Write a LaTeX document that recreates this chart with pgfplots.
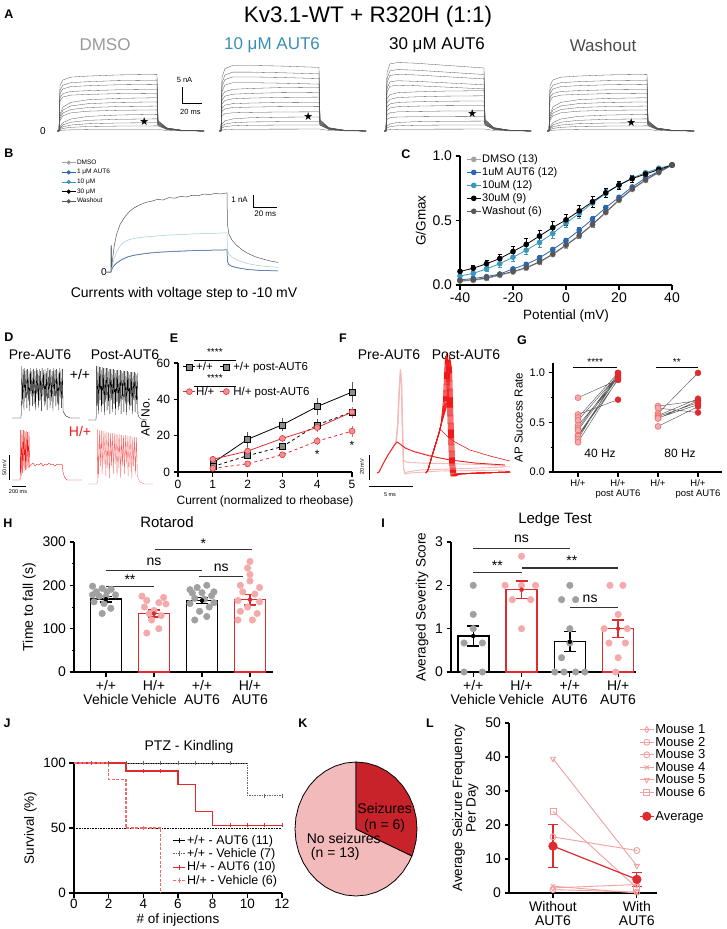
\documentclass[border=0pt]{standalone}
\usepackage{pgfplots}
\pgfplotsset{compat=1.18}
\usepackage{pgfplotstable}
\usetikzlibrary{plotmarks}
\usepackage{fontspec}
\setmainfont{Liberation Sans}
\newfontfamily\dejavu{DejaVu Sans}
\newcommand\fs[1]{\fontsize{#1}{#1}\selectfont}

\definecolor{cdmso}{HTML}{A3A3A3}
\definecolor{caut1}{HTML}{2D66B0}
\definecolor{caut10}{HTML}{3A97BE}
\definecolor{cwash}{HTML}{575757}
\definecolor{ctxtblue}{HTML}{3A8DB6}
\definecolor{ctxtgray}{HTML}{9A9A9A}
\definecolor{ctxtwash}{HTML}{4A4A4A}
\definecolor{cbmid}{HTML}{9FCBE0}
\definecolor{cred}{HTML}{DF2A2F}
\definecolor{cbright}{HTML}{F01818}
\definecolor{clightred}{HTML}{F46A6A}
\definecolor{cpinkdot}{HTML}{F4AAAA}
\definecolor{cpinkfill}{HTML}{F29090}
\definecolor{cpinkline}{HTML}{F2A0A0}
\definecolor{cpaler}{HTML}{F7B8B8}
\definecolor{cgraydot}{HTML}{A0A0A0}
\definecolor{csq}{HTML}{8C8C8C}
\definecolor{cpiedark}{HTML}{C8232A}
\definecolor{cpielight}{HTML}{F2BABA}

\pgfplotsset{
  gp/.style={scale only axis, axis x line*=bottom, axis y line*=left,
    tick align=outside, axis line style={line width=1.1pt},
    major tick style={line width=1.1pt, black}, minor tick style={line width=1pt, black},
    major tick length=4.5pt, minor tick length=2.5pt,
    tick label style={font=\fs{14}}, label style={font=\fs{14}},
    clip=false, /pgf/number format/assume math mode=true},
  hid/.style={scale only axis, hide axis, clip=false},
  trace/.style={black!68, line width=0.3pt},
  ebar/.style={/pgfplots/error bars/y dir=both, /pgfplots/error bars/y explicit},
}

% panel A: step currents (t in ms, I in nA), one column per voltage step
\pgfplotstableread{
t l1 l2 l3 l4 l5 l6 l7 l8 l9 l10 l11 l12 l13 l14
-2 0 0 0 0 0 0 0 0 0 0 0 0 0 0
0 0 0 0 0 0 0 0 0 0 0 0 0 0 0
1 0.12 0.40 0.65 0.95 1.30 3.3 3.9 4.55 5.2 9.44 10.4 11.68 12.72 14.16
4 0.25 0.8 1.3 1.9 2.6 4.75 5.62 6.55 7.49 10.62 11.7 13.14 14.31 15.93
12 0.36 1.15 1.87 2.74 3.74 5.68 6.71 7.83 8.94 11.21 12.35 13.87 15.1 16.82
30 0.44 1.41 2.29 3.34 4.58 6.2 7.33 8.55 9.78 11.45 12.61 14.16 15.42 17.17
60 0.48 1.54 2.5 3.65 4.99 6.47 7.64 8.92 10.19 11.68 12.87 14.45 15.74 17.52
100 0.5 1.6 2.6 3.8 5.2 6.6 7.8 9.1 10.4 11.8 13.0 14.6 15.9 17.7
101 0.5 1.6 1.76 1.88 2.02 2.16 2.28 2.41 2.54 2.68 2.8 2.96 3.09 3.27
110 0.15 0.48 0.53 0.56 0.61 0.65 0.68 0.72 0.76 0.80 0.84 0.89 0.93 0.98
125 0.04 0.13 0.14 0.15 0.16 0.17 0.18 0.19 0.2 0.21 0.22 0.24 0.25 0.26
148 0 0 0 0 0 0 0 0 0 0 0 0 0 0
}\tabDMSO

\pgfplotstableread{
t l1 l2 l3 l4 l5 l6 l7 l8 l9 l10 l11 l12 l13 l14
-2 0 0 0 0 0 0 0 0 0 0 0 0 0 0
0 0 0 0 0 0 0 0 0 0 0 0 0 0 0
1 0.3 0.95 1.5 2.2 4.8 6.16 7.2 8.48 9.68 10.96 12.38 13.86 15.09 16.81
4 0.43 1.37 2.16 3.17 5.4 6.93 8.1 9.54 10.89 12.33 14.35 16.06 17.48 19.48
12 0.52 1.63 2.58 3.78 5.7 7.32 8.55 10.07 11.5 13.02 15.1 16.9 18.4 20.5
30 0.56 1.79 2.82 4.14 5.82 7.47 8.73 10.28 11.74 13.29 15.1 16.9 18.4 20.5
60 0.59 1.86 2.94 4.31 5.94 7.62 8.91 10.49 11.98 13.56 14.95 16.73 18.22 20.3
100 0.6 1.9 3.0 4.4 6.0 7.7 9.0 10.6 12.1 13.7 14.65 16.39 17.85 19.89
101 0.6 1.9 1.8 1.94 2.1 2.27 2.4 2.56 2.71 2.87 3.0 3.18 3.33 3.54
110 0.18 0.57 0.54 0.58 0.63 0.68 0.72 0.77 0.81 0.86 0.9 0.95 1.0 1.06
125 0.05 0.15 0.14 0.16 0.17 0.18 0.19 0.2 0.22 0.23 0.24 0.25 0.27 0.28
148 0 0 0 0 0 0 0 0 0 0 0 0 0 0
}\tabTen

\pgfplotstableread{
t l1 l2 l3 l4 l5 l6 l7 l8 l9 l10 l11 l12 l13 l14
-2 0 0 0 0 0 0 0 0 0 0 0 0 0 0
0 0 0 0 0 0 0 0 0 0 0 0 0 0 0
1 0.3 0.95 1.55 3.68 5.04 6.4 7.52 8.8 10.08 12.16 13.35 15.05 16.32 18.19
4 0.43 1.37 2.23 4.14 5.67 7.2 8.46 9.9 11.34 14.01 15.39 17.35 18.82 20.97
12 0.52 1.63 2.67 4.37 5.99 7.6 8.93 10.45 11.97 14.3 15.7 17.7 19.2 21.4
30 0.56 1.79 2.91 4.46 6.11 7.76 9.12 10.67 12.22 14.16 15.54 17.52 19.01 21.19
60 0.59 1.86 3.04 4.55 6.24 7.92 9.31 10.89 12.47 13.73 15.07 16.99 18.43 20.54
100 0.6 1.9 3.1 4.6 6.3 8.0 9.4 11.0 12.6 13.16 14.44 16.28 17.66 19.69
101 0.6 1.9 1.81 1.96 2.13 2.3 2.44 2.6 2.76 2.93 3.07 3.27 3.42 3.64
110 0.18 0.57 0.54 0.59 0.64 0.69 0.73 0.78 0.83 0.88 0.92 0.98 1.03 1.09
125 0.05 0.15 0.14 0.16 0.17 0.18 0.2 0.21 0.22 0.23 0.25 0.26 0.27 0.29
148 0 0 0 0 0 0 0 0 0 0 0 0 0 0
}\tabThirty

% panel C: G/Gmax and SEM
\pgfplotstableread{
x d a1 a10 a30 w ed ea1 ea10 ea30 ew
-40 0.030 0.040 0.070 0.105 0.035 0.01 0.01 0.015 0.02 0.01
-35 0.035 0.050 0.090 0.130 0.040 0.01 0.01 0.02 0.025 0.01
-30 0.050 0.065 0.125 0.165 0.055 0.01 0.012 0.02 0.03 0.012
-25 0.075 0.085 0.165 0.205 0.080 0.012 0.015 0.025 0.035 0.012
-20 0.100 0.125 0.215 0.260 0.105 0.012 0.015 0.03 0.04 0.015
-15 0.130 0.160 0.270 0.315 0.135 0.015 0.018 0.03 0.045 0.015
-10 0.175 0.210 0.330 0.380 0.180 0.015 0.02 0.035 0.045 0.018
-5 0.235 0.275 0.400 0.445 0.240 0.015 0.02 0.035 0.045 0.018
0 0.305 0.345 0.480 0.505 0.310 0.018 0.02 0.035 0.045 0.02
5 0.380 0.425 0.555 0.575 0.385 0.018 0.02 0.035 0.045 0.02
10 0.465 0.510 0.635 0.645 0.470 0.018 0.02 0.03 0.04 0.02
15 0.560 0.600 0.710 0.715 0.565 0.015 0.02 0.03 0.035 0.018
20 0.655 0.680 0.775 0.775 0.660 0.015 0.015 0.025 0.03 0.015
25 0.740 0.760 0.830 0.825 0.745 0.012 0.012 0.02 0.025 0.012
30 0.810 0.830 0.870 0.860 0.815 0.01 0.01 0.015 0.02 0.01
35 0.870 0.880 0.905 0.895 0.875 0.008 0.008 0.01 0.012 0.008
40 0.930 0.930 0.930 0.930 0.930 0.005 0.005 0.005 0.005 0.005
}\tabC

\begin{document}
\begin{tikzpicture}
\path[use as bounding box] (0pt,0pt) rectangle (726pt,-929pt);

% panel letters
\begin{scope}[every node/.style={font=\bfseries\fs{12.5}}]
\node at (9pt,-14pt) {A};
\node at (9pt,-153pt) {B};
\node at (406pt,-154pt) {C};
\node at (9pt,-337pt) {D};
\node at (174pt,-338pt) {E};
\node at (343pt,-338pt) {F};
\node at (522pt,-340pt) {G};
\node at (8pt,-523pt) {H};
\node at (383pt,-523pt) {I};
\node at (7pt,-723pt) {J};
\node at (303pt,-723pt) {K};
\node at (430pt,-723pt) {L};
\end{scope}

% ---------------- A ----------------
\node[font=\fs{22.5}] at (368pt,-17pt) {Kv3.1-WT + R320H (1:1)};
\node[font=\fs{17}, text=ctxtgray] at (105pt,-45pt) {DMSO};
\node[font=\fs{17}, text=ctxtblue] at (272pt,-45pt) {10 μM AUT6};
\node[font=\fs{17}] at (437pt,-45pt) {30 μM AUT6};
\node[font=\fs{17}, text=ctxtwash] at (603pt,-45pt) {Washout};
\node[font=\fs{10}] at (43pt,-131pt) {0};

\begin{axis}[hid, at={(57.04pt,-132.6pt)}, anchor=south west, width=149pt, height=72pt,
  xmin=-2, xmax=150, ymin=-0.5, ymax=22]
\pgfplotsinvokeforeach{1,...,14}{\addplot[trace] table[x=t,y=l#1]{\tabDMSO};}
\addplot[only marks, mark=text, text mark={\dejavu\fs{11}★}] coordinates {(87,2.8)};
\addplot[black, line width=0.8pt] coordinates {(125.5,13.75) (125.5,8.75) (145.5,8.75)};
\node[font=\fs{7.5}] at (axis cs:128,15.9) {5 nA};
\node[font=\fs{7.5}] at (axis cs:134,5.9) {20 ms};
\end{axis}

\begin{axis}[hid, at={(219.04pt,-132.6pt)}, anchor=south west, width=149pt, height=72pt,
  xmin=-2, xmax=150, ymin=-0.5, ymax=22]
\pgfplotsinvokeforeach{1,...,14}{\addplot[trace] table[x=t,y=l#1]{\tabTen};}
\addplot[only marks, mark=text, text mark={\dejavu\fs{11}★}] coordinates {(89,4.4)};
\end{axis}

\begin{axis}[hid, at={(384.04pt,-132.6pt)}, anchor=south west, width=149pt, height=72pt,
  xmin=-2, xmax=150, ymin=-0.5, ymax=22]
\pgfplotsinvokeforeach{1,...,14}{\addplot[trace] table[x=t,y=l#1]{\tabThirty};}
\addplot[only marks, mark=text, text mark={\dejavu\fs{11}★}] coordinates {(88,5.6)};
\end{axis}

\begin{axis}[hid, at={(547.04pt,-132.6pt)}, anchor=south west, width=149pt, height=72pt,
  xmin=-2, xmax=150, ymin=-0.5, ymax=22]
\pgfplotsinvokeforeach{1,...,14}{\addplot[trace] table[x=t,y=l#1]{\tabDMSO};}
\addplot[only marks, mark=text, text mark={\dejavu\fs{11}★}] coordinates {(84,2.5)};
\end{axis}

% ---------------- B ----------------
\node[font=\fs{10}] at (104pt,-272pt) {0};
\node[font=\fs{14}] at (184pt,-294pt) {Currents with voltage step to -10 mV};
\begin{axis}[hid, at={(105.2pt,-275.6pt)}, anchor=south west, width=174pt, height=87.6pt,
  xmin=-5, xmax=145, ymin=-0.3, ymax=7,
  legend style={at={(-0.27,1.36)}, anchor=north west, draw=none, fill=none,
    font=\fs{6.5}, row sep=1.6pt, nodes={inner sep=1pt}},
  legend cell align=left,
  legend image code/.code={\draw[mark repeat=2,mark phase=2,#1] plot coordinates {(0pt,0pt) (7pt,0pt) (14pt,0pt)};}]
\addplot[cdmso, line width=0.5pt, forget plot] coordinates {(-5,0)(0,0)(0.2,2.1)(0.6,0.2)(1.5,0.4)(3,0.6)(5,0.78)(10,1.1)(15,1.3)(20,1.42)(30,1.57)(40,1.66)(50,1.72)(60,1.76)(70,1.79)(80,1.82)(90,1.84)(100,1.86)(100.4,0.9)(101.5,0.65)(104,0.5)(110,0.35)(118,0.22)(130,0.14)(144,0.1)};
\addplot[caut1, line width=0.5pt, forget plot] coordinates {(-5,0)(0,0)(0.2,2.0)(0.6,0.18)(1.5,0.37)(3,0.57)(5,0.74)(10,1.06)(15,1.27)(20,1.39)(30,1.54)(40,1.63)(50,1.69)(60,1.73)(70,1.77)(80,1.8)(90,1.82)(100,1.84)(100.4,0.88)(101.5,0.62)(104,0.47)(110,0.33)(118,0.2)(130,0.12)(144,0.09)};
\addplot[cbmid, line width=0.5pt, forget plot] coordinates {(-5,0)(0,0)(0.2,2.2)(0.6,0.3)(1.5,0.7)(3,1.2)(5,1.7)(8,2.2)(12,2.55)(16,2.7)(20,2.8)(25,2.87)(30,2.93)(40,3.0)(50,3.08)(60,3.12)(70,3.17)(80,3.2)(90,3.23)(100,3.27)(100.4,1.9)(101.5,1.5)(104,1.25)(110,0.95)(118,0.7)(126,0.55)(135,0.45)(144,0.38)};
\addplot[cwash, line width=0.5pt, forget plot] coordinates {(-5,0)(0,0)(0.2,2.25)(0.6,0.4)(1.5,1.2)(3,2.3)(5,3.2)(8,4.0)(12,4.6)(16,5.05)(20,5.35)(25,5.6)(30,5.8)(35,5.9)(40,6.05)(45,6.0)(50,6.2)(55,6.15)(60,6.3)(65,6.25)(70,6.4)(75,6.35)(80,6.5)(85,6.45)(90,6.55)(95,6.5)(100,6.6)(100.4,4.0)(101.5,3.2)(104,2.7)(108,2.25)(113,1.85)(118,1.55)(125,1.25)(132,1.05)(138,0.9)(144,0.8)};
\addplot[black, line width=0.8pt, forget plot] coordinates {(123,6.42)(123,5.42)(143,5.42)};
\node[font=\fs{8}, anchor=east] at (axis cs:121,6.0) {1 nA};
\node[font=\fs{8}] at (axis cs:133,4.85) {20 ms};
\addlegendimage{cdmso, line width=0.6pt, mark=*, mark size=1.8pt}
\addlegendentry{DMSO}
\addlegendimage{caut1, line width=0.6pt, mark=*, mark size=1.8pt}
\addlegendentry{1 μM AUT6}
\addlegendimage{caut10, line width=0.6pt, mark=*, mark size=1.8pt}
\addlegendentry{10 μM}
\addlegendimage{black, line width=0.6pt, mark=*, mark size=1.8pt}
\addlegendentry{30 μM}
\addlegendimage{cwash, line width=0.6pt, mark=*, mark size=1.8pt}
\addlegendentry{Washout}
\end{axis}

% ---------------- C ----------------
\begin{axis}[gp, at={(460pt,-285pt)}, anchor=south west, width=212pt, height=129pt,
  xmin=-40, xmax=40, ymin=0, ymax=1, xtick={-40,-20,0,20,40}, ytick={0,0.5,1},
  yticklabel style={/pgf/number format/.cd, fixed, fixed zerofill, precision=1},
  xlabel={Potential (mV)}, ylabel={G/Gmax}, label style={font=\fs{13.5}},
  legend style={at={(0.015,1.035)}, anchor=north west, draw=none, fill=none,
    font=\fs{11}, row sep=1.5pt, nodes={inner sep=1pt}},
  legend cell align=left,
  legend image code/.code={\draw[mark repeat=2,mark phase=2,#1] plot coordinates {(0pt,0pt) (7pt,0pt) (14pt,0pt)};},
  every axis plot/.append style={line width=0.8pt, mark=*, mark size=2.4pt, ebar,
    /pgfplots/error bars/error bar style={line width=0.6pt},
    /pgfplots/error bars/error mark options={rotate=90, mark size=2pt, line width=0.6pt}}]
\addplot[cdmso] table[x=x, y=d, y error=ed]{\tabC};
\addlegendentry{DMSO (13)}
\addplot[caut1] table[x=x, y=a1, y error=ea1]{\tabC};
\addlegendentry{1uM AUT6 (12)}
\addplot[caut10] table[x=x, y=a10, y error=ea10]{\tabC};
\addlegendentry{10uM (12)}
\addplot[black] table[x=x, y=a30, y error=ea30]{\tabC};
\addlegendentry{30uM (9)}
\addplot[cwash] table[x=x, y=w, y error=ew]{\tabC};
\addlegendentry{Washout (6)}
\end{axis}

% ---------------- D ----------------
\node[font=\fs{14}] at (40pt,-355pt) {Pre-AUT6};
\node[font=\fs{14}] at (125pt,-355pt) {Post-AUT6};
\node[font=\fs{14}] at (80pt,-374pt) {+/+};
\node[font=\fs{14}, text=cbright] at (80pt,-431pt) {H/+};
\begin{axis}[hid, at={(0pt,-500pt)}, anchor=south west, width=170pt, height=160pt,
  xmin=0, xmax=170, ymin=-500, ymax=-340]
\addplot[black, line width=0.3pt] coordinates {(12,-418) (21,-418) (21.3,-410)
(21.8,-366) (22.5,-404) (23.25,-369) (23.95,-410) (24.7,-368) (25.4,-398) (26.15,-370) (26.85,-408) (27.6,-369) (28.3,-401) (29.05,-371) (29.75,-411) (30.5,-368) (31.2,-396) (31.95,-370) (32.65,-406) (33.4,-369) (34.1,-404) (34.85,-371) (35.55,-410) (36.3,-368) (37,-398) (37.75,-370) (38.45,-408) (39.2,-369) (39.9,-401) (40.65,-371) (41.35,-411) (42.1,-368) (42.8,-396) (43.55,-370) (44.25,-406) (45,-369) (45.7,-404) (46.45,-371) (47.15,-410) (47.9,-368) (48.6,-398) (49.35,-370) (50.05,-408) (50.8,-369) (51.5,-401) (52.25,-371) (52.95,-411) (53.7,-368) (54.4,-396) (55.15,-370) (55.85,-406) (56.6,-369) (57.3,-404) (58.05,-371) (58.75,-410) (59.5,-368) (60.2,-398) (60.95,-370) (61.65,-408) (62.4,-369) (63.1,-411) (64,-413) (66,-416) (70,-418) (80,-418)};
\addplot[black, line width=0.3pt] coordinates {(88,-420)(96,-420)(96.3,-413)
(96.6,-366)(97.3,-406)(98,-366)(98.7,-414)(99.4,-367)(100.1,-400)(100.8,-367)(101.5,-412)(102.2,-367)(102.9,-404)(103.6,-368)(104.3,-415)(105,-368)(105.7,-402)(106.4,-368)(107.1,-410)(107.8,-368)(108.5,-406)(109.2,-369)(109.9,-414)(110.6,-369)(111.3,-400)(112,-369)(112.7,-412)(113.4,-369)(114.1,-404)(114.8,-370)(115.5,-415)(116.2,-370)(116.9,-402)(117.6,-370)(118.3,-410)(119,-370)(119.7,-406)(120.4,-370)(121.1,-414)(121.8,-371)(122.5,-400)(123.2,-371)(123.9,-412)(124.6,-371)(125.3,-404)(126,-371)(126.7,-415)(127.4,-371)(128.1,-402)(128.8,-372)(129.5,-410)(130.2,-372)(130.9,-406)(131.6,-372)(132.3,-414)(133,-372)(133.7,-400)(134.4,-372)(135.1,-412)(135.8,-373)(136.5,-404)(137.2,-373)(137.9,-414)(139,-417)(141,-419)(147,-420)};
\addplot[cbright, line width=0.35pt] coordinates {(12,-480)(20,-480)(20.3,-476)(20.6,-430)(21.2,-476)(22,-430)(22.6,-473)(23.4,-430)(24,-471)(24.8,-431)(25.4,-470)(26.2,-431)(26.8,-469)(27.6,-432)(28.2,-468)(29,-432)(29.6,-467)(30.5,-465)(33,-463)(35,-466)(37,-464)(39,-465)(41,-463)(43,-466)(45,-464)(47,-465)(49,-463)(51,-465)(53,-464)(55,-466)(57,-464)(59,-465)(61,-464)(62.3,-465)(63,-472)(64.5,-477)(67,-480)(82,-480)};
\addplot[clightred, line width=0.35pt] coordinates {(88,-484)(97,-484)(97.3,-478)
(97.6,-429)(98.5,-478)(99.45,-430)(100.35,-466)(101.3,-430)(102.2,-474)(103.15,-431)(104.05,-464)(105,-431)(105.9,-476)(106.85,-432)(107.75,-468)(108.7,-432)(109.6,-478)(110.55,-433)(111.45,-466)(112.4,-433)(113.3,-474)(114.25,-433)(115.15,-464)(116.1,-434)(117,-476)(117.95,-434)(118.85,-468)(119.8,-434)(120.7,-478)(121.65,-435)(122.55,-466)(123.5,-435)(124.4,-474)(125.35,-435)(126.25,-464)(127.2,-436)(128.1,-476)(129.05,-436)(129.95,-468)(130.9,-436)(131.8,-478)(132.75,-437)(133.65,-466)(134.6,-437)(135.5,-474)(136.45,-437)(137.35,-476)(138.5,-479)(140,-482)(144,-484)(153,-484)};
\addplot[black, line width=0.6pt] coordinates {(9,-455)(9,-480)};
\addplot[black, line width=0.6pt] coordinates {(12,-486)(26,-486)};
\node[font=\fs{5.5}, rotate=90] at (axis cs:4.5,-468) {50 mV};
\node[font=\fs{5.5}] at (axis cs:18,-492) {200 ms};
\end{axis}

% ---------------- E ----------------
\begin{axis}[gp, at={(178pt,-472pt)}, anchor=south west, width=174pt, height=109pt,
  xmin=0, xmax=5, ymin=0, ymax=60, xtick={0,...,5}, ytick={0,20,40,60},
  tick label style={font=\fs{12}}, label style={font=\fs{12}},
  xlabel={Current (normalized to rheobase)}, ylabel={AP No.},
  legend columns=2,
  legend style={at={(0.01,1.035)}, anchor=north west, draw=none, fill=none,
    font=\fs{11.5}, row sep=14pt, nodes={inner sep=0.5pt},
    /tikz/every even column/.append style={column sep=5pt}},
  legend cell align=left,
  legend image code/.code={\draw[mark repeat=2,mark phase=2,#1] plot coordinates {(0pt,0pt) (6pt,0pt) (12pt,0pt)};},
  every axis plot/.append style={ebar,
    /pgfplots/error bars/error bar style={line width=0.7pt, solid},
    /pgfplots/error bars/error mark=none}]
\addplot[black, line width=0.8pt, mark=square*, mark size=3pt, mark options={fill=csq, draw=black, solid, line width=0.5pt}, /pgfplots/error bars/error bar style={black!65}]
  coordinates {(1,5)+-(0,2) (2,18)+-(0,4) (3,26)+-(0,3.5) (4,36)+-(0,4.5) (5,44)+-(0,5.5)};
\addlegendentry{+/+}
\addplot[black, line width=0.8pt, dashed, mark=square*, mark size=3pt, mark options={fill=csq, draw=black, solid, line width=0.5pt}, /pgfplots/error bars/error bar style={black!65}]
  coordinates {(1,3)+-(0,1) (2,9)+-(0,2) (3,14)+-(0,2) (4,26)+-(0,3) (5,33)+-(0,3)};
\addlegendentry{+/+ post-AUT6}
\addplot[cred, line width=0.8pt, mark=*, mark size=3pt, mark options={fill=cpinkfill, draw=cred, solid, line width=0.5pt}, /pgfplots/error bars/error bar style={cred!70}]
  coordinates {(1,7)+-(0,1.5) (2,11.5)+-(0,2) (3,18.5)+-(0,2) (4,24.5)+-(0,2.5) (5,33)+-(0,3)};
\addlegendentry{H/+}
\addplot[cred, line width=0.8pt, dashed, mark=*, mark size=3pt, mark options={fill=cpinkfill, draw=cred, solid, line width=0.5pt}, /pgfplots/error bars/error bar style={cred!70}]
  coordinates {(1,2)+-(0,1) (2,4.5)+-(0,1) (3,9.5)+-(0,1.5) (4,17)+-(0,2) (5,22.5)+-(0,3)};
\addlegendentry{H/+ post-AUT6}
\addplot[black, line width=0.8pt, forget plot] coordinates {(0.46,61.5)(1.67,61.5)};
\addplot[black, line width=0.8pt, forget plot] coordinates {(0.46,47.3)(1.67,47.3)};
\node[font=\fs{10}] at (axis cs:1.06,66) {****};
\node[font=\fs{10}] at (axis cs:1.06,51.8) {****};
\node[font=\fs{12}] at (axis cs:4,9.6) {*};
\node[font=\fs{12}] at (axis cs:5,14.4) {*};
\end{axis}

% ---------------- F ----------------
\node[font=\fs{14}] at (389pt,-355pt) {Pre-AUT6};
\node[font=\fs{14}] at (466pt,-355pt) {Post-AUT6};
\begin{axis}[hid, at={(340pt,-500pt)}, anchor=south west, width=190pt, height=160pt,
  xmin=340, xmax=530, ymin=-500, ymax=-340]
\addplot[cpaler, line width=0.7pt] coordinates {(397,-442)(410,-450)(440,-458)(480,-464)(510,-467)};
\addplot[cpaler, line width=0.9pt] coordinates {(377,-473)(379,-472)(383,-464)(388,-455)(393,-448)(396,-441)(397.5,-425)(399,-390)(400.3,-369)(401.3,-385)(402.3,-430)(403.3,-466)(404.5,-473)(407,-472)(420,-470)(450,-469)(480,-468)(505,-467)};
\addplot[cpaler, line width=0.9pt] coordinates {(377,-473)(379,-472)(383,-464)(388,-455)(393,-448)(396.5,-441)(398,-425)(399.5,-390)(400.8,-371)(401.8,-385)(402.8,-430)(403.8,-468)(405,-474)(410,-473)(440,-471)(505,-470)};
\addplot[cpaler, line width=0.9pt] coordinates {(377,-473)(379,-472)(383,-464)(388,-455)(393,-448)(396,-441)(397.7,-425)(399.2,-390)(400.5,-372)(401.5,-388)(402.5,-430)(403.5,-460)(406,-462)(420,-463)(460,-464)(505,-465)};
\addplot[cbright, line width=0.8pt] coordinates {(377,-473)(379,-472)(383,-464)(388,-455)(393,-447)(397,-442)(400,-444)(405,-448)(415,-452)(430,-456)(450,-460)(475,-463)(505,-465)};
\addplot[cbright, line width=0.6pt] coordinates {(426,-473)(428,-470)(432,-456)(436,-443)(440,-430)(442,-431)(447,-436)(455,-442)(470,-450)(490,-456)(510,-461)};
\addplot[cbright, line width=0.8pt] coordinates {(426,-473)(428,-470)(432,-456)(436,-443)(439,-433)(441,-425)(443.5,-400)(444.5,-375)(445.5,-356)(446.5,-368)(448,-420)(449.5,-462)(451,-476)(454.5,-474)(480,-473)(510,-472)};
\addplot[cbright, line width=0.8pt] coordinates {(426,-473)(428,-470)(432,-456)(436,-443)(439,-433)(441,-425)(444.5,-400)(445.5,-375)(446.5,-354)(447.5,-368)(449,-420)(450.5,-462)(452,-476)(455.5,-474)(480,-473)(510,-472)};
\addplot[cbright, line width=0.8pt] coordinates {(426,-473)(428,-470)(432,-456)(436,-443)(439,-433)(441,-425)(445.5,-400)(446.5,-375)(447.5,-358)(448.5,-368)(450,-420)(451.5,-462)(453,-476)(456.5,-474)(480,-473)(510,-472)};
\addplot[cbright, line width=0.8pt] coordinates {(426,-473)(428,-470)(432,-456)(436,-443)(439,-433)(441,-425)(446.5,-400)(447.5,-375)(448.5,-360)(449.5,-368)(451,-420)(452.5,-462)(454,-476)(457.5,-474)(480,-473)(510,-472)};
\addplot[cbright, line width=0.8pt] coordinates {(426,-473)(428,-470)(432,-456)(436,-443)(439,-433)(441,-425)(447.5,-400)(448.5,-375)(449.5,-355)(450.5,-368)(452,-420)(453.5,-462)(455,-476)(458.5,-474)(480,-473)(510,-472)};
\addplot[cbright, line width=0.8pt] coordinates {(426,-473)(428,-470)(432,-456)(436,-443)(439,-433)(441,-425)(448.5,-400)(449.5,-375)(450.5,-362)(451.5,-368)(453,-420)(454.5,-462)(456,-476)(459.5,-474)(480,-473)(510,-472)};
\addplot[black, line width=0.6pt] coordinates {(369,-455)(369,-480)};
\addplot[black, line width=0.6pt] coordinates {(369,-486)(413,-486)};
\node[font=\fs{5.5}, rotate=90] at (axis cs:362,-467) {20 mV};
\node[font=\fs{5.5}] at (axis cs:390,-495) {5 ms};
\end{axis}

% ---------------- G ----------------
\begin{axis}[gp, at={(553pt,-472pt)}, anchor=south west, width=169pt, height=109pt,
  xmin=-0.625, xmax=3.6, ymin=0, ymax=1.1, ytick={0,0.5,1}, minor ytick={0.25,0.75},
  xtick={0,1,2,3}, xticklabels={{H/+},{H/+\\post AUT6},{H/+},{H/+\\post AUT6}},
  xticklabel style={align=center, font=\fs{9.5}},
  yticklabel style={font=\fs{11}, /pgf/number format/.cd, fixed, fixed zerofill, precision=1},
  ylabel={AP Success Rate}, ylabel style={font=\fs{11.5}}, unbounded coords=jump]
\addplot[black!65, line width=0.45pt] coordinates {(0,0.75)(1,0.93) (0.5,nan) (0,0.58)(1,0.73) (0.5,nan) (0,0.55)(1,1.0) (0.5,nan) (0,0.52)(1,0.98) (0.5,nan) (0,0.47)(1,0.95) (0.5,nan) (0,0.44)(1,0.99) (0.5,nan) (0,0.42)(1,0.97) (0.5,nan) (0,0.37)(1,0.96) (0.5,nan) (0,0.36)(1,0.93) (0.5,nan) (0,0.33)(1,1.0) (0.5,nan) (0,0.30)(1,0.94)};
\addplot[black!65, line width=0.45pt] coordinates {(2,0.665)(3,0.72) (2.5,nan) (2,0.645)(3,0.60) (2.5,nan) (2,0.59)(3,1.0) (2.5,nan) (2,0.57)(3,0.74) (2.5,nan) (2,0.56)(3,0.70) (2.5,nan) (2,0.545)(3,0.68) (2.5,nan) (2,0.54)(3,0.72) (2.5,nan) (2,0.46)(3,0.66)};
\addplot[only marks, mark=*, mark size=3pt, mark options={fill=cpinkdot, draw=clightred, line width=0.6pt}] coordinates {(0,0.75)(0,0.58)(0,0.55)(0,0.52)(0,0.47)(0,0.44)(0,0.42)(0,0.37)(0,0.36)(0,0.33)(0,0.30)(2,0.665)(2,0.645)(2,0.59)(2,0.57)(2,0.56)(2,0.545)(2,0.54)(2,0.46)};
\addplot[only marks, mark=*, mark size=3pt, mark options={fill=cred, draw=cred}] coordinates {(1,0.93)(1,0.73)(1,1.0)(1,0.98)(1,0.95)(1,0.99)(1,0.97)(1,0.96)(1,0.93)(1,1.0)(1,0.94)(3,0.72)(3,0.60)(3,1.0)(3,0.74)(3,0.70)(3,0.68)(3,0.72)(3,0.66)};
\addplot[black, line width=0.8pt] coordinates {(-0.12,1.06)(0.98,1.06)};
\addplot[black, line width=0.8pt] coordinates {(1.95,1.06)(3.0,1.06)};
\node[font=\fs{10}] at (axis cs:0.43,1.11) {****};
\node[font=\fs{10}] at (axis cs:2.47,1.11) {**};
\node[font=\fs{12}] at (axis cs:0.55,0.19) {40 Hz};
\node[font=\fs{12}] at (axis cs:2.55,0.19) {80 Hz};
\end{axis}

% ---------------- H ----------------
\node[font=\fs{15}] at (167pt,-522pt) {Rotarod};
\begin{axis}[gp, at={(74pt,-672pt)}, anchor=south west, width=199pt, height=130pt,
  xmin=0.333, xmax=4.48, ymin=0, ymax=300, ytick={0,100,200,300}, minor ytick={50,150,250},
  xtick={1,2,3,4}, xticklabels={{+/+\\Vehicle},{H/+\\Vehicle},{+/+\\AUT6},{H/+\\AUT6}},
  xticklabel style={align=center}, ylabel={Time to fall (s)}]
\addplot[ybar, bar width=31pt, bar shift=0pt, draw=black, fill=white, line width=1.6pt] coordinates {(1,168)(3,165)};
\addplot[ybar, bar width=31pt, bar shift=0pt, draw=cred, fill=white, line width=1.6pt] coordinates {(2,135)(4,167)};
\addplot[only marks, mark=*, mark size=3.3pt, cgraydot, mark options={draw=none}] coordinates {(0.72,198)(0.92,193)(1.11,191)(0.80,185)(1.02,185)(0.72,178)(0.86,175)(1.0,174)(1.2,178)(0.75,162)(0.96,158)(1.1,147)(0.92,135)
(2.75,190)(2.9,195)(3.1,200)(3.25,185)(2.8,182)(3.0,183)(3.2,176)(2.85,170)(3.05,168)(3.25,160)(2.75,158)(3.15,150)(2.95,140)(3.1,128)(2.85,120)};
\addplot[only marks, mark=*, mark size=3.3pt, cpinkdot, mark options={draw=none}] coordinates {(1.75,175)(2.2,172)(1.85,165)(2.1,160)(2.25,157)(1.8,150)(2.0,142)(1.9,135)(2.15,130)(1.95,120)(2.1,100)(1.85,90)
(4.0,255)(3.95,240)(4.0,225)(4.0,210)(3.8,200)(4.2,195)(3.85,185)(4.1,180)(3.75,165)(4.2,162)(3.95,150)(3.8,140)(4.15,135)(3.75,120)(4.05,120)};
\addplot[black, only marks, mark=none, ebar, /pgfplots/error bars/error bar style={line width=1.4pt}, /pgfplots/error bars/error mark options={rotate=90, mark size=6pt, line width=1.4pt}] coordinates {(1,168)+-(0,6)(3,165)+-(0,7)};
\addplot[cred, only marks, mark=none, ebar, /pgfplots/error bars/error bar style={line width=1.4pt}, /pgfplots/error bars/error mark options={rotate=90, mark size=6pt, line width=1.4pt}] coordinates {(2,135)+-(0,8)(4,167)+-(0,12)};
\addplot[black!80, line width=1.1pt] coordinates {(1,198)(2,198)};
\addplot[black!80, line width=1.1pt] coordinates {(1,235)(3,235)};
\addplot[black!80, line width=1.1pt] coordinates {(2.94,220)(3.85,220)};
\addplot[black!80, line width=1.1pt] coordinates {(2.02,282)(4.04,282)};
\node[font=\fs{14}] at (axis cs:1.5,212) {**};
\node[font=\fs{14}] at (axis cs:2,255) {ns};
\node[font=\fs{14}] at (axis cs:3.4,240) {ns};
\node[font=\fs{14}] at (axis cs:3.03,296) {*};
\end{axis}

% ---------------- I ----------------
\node[font=\fs{15}] at (555pt,-520pt) {Ledge Test};
\begin{axis}[gp, at={(451pt,-672pt)}, anchor=south west, width=185pt, height=130pt,
  xmin=0.54, xmax=4.37, ymin=0, ymax=3, ytick={0,1,2,3},
  xtick={1,2,3,4}, xticklabels={{+/+\\Vehicle},{H/+\\Vehicle},{+/+\\AUT6},{H/+\\AUT6}},
  xticklabel style={align=center}, ylabel={Averaged Severity Score}, ylabel style={font=\fs{13.5}}]
\addplot[ybar, bar width=31pt, bar shift=0pt, draw=black, fill=white, line width=1.6pt] coordinates {(1,0.83)(3,0.7)};
\addplot[ybar, bar width=31pt, bar shift=0pt, draw=cred, fill=white, line width=1.6pt] coordinates {(2,1.9)(4,1.0)};
\addplot[only marks, mark=*, mark size=3.3pt, cgraydot, mark options={draw=none}] coordinates {(1,2)(1,1.33)(1,1.0)(0.81,0.67)(1.19,0.67)(0.81,0)(1.19,0)
(3,2)(2.83,1.67)(3.12,1.67)(3,1.0)(3,0.67)(2.83,0.33)(2.69,0)(2.88,0)(3.12,0)(3.31,0)};
\addplot[only marks, mark=*, mark size=3.3pt, cpinkdot, mark options={draw=none}] coordinates {(2,2.67)(1.66,2)(2,2)(2.29,2)(1.81,1.67)(2.19,1.67)(2,1.0)
(3.83,2)(4.1,2)(4.0,1.33)(3.71,1.0)(4.19,1.0)(3.81,0.67)(4.15,0.67)(4.0,0.33)(3.95,0)};
\addplot[black, only marks, mark=none, ebar, /pgfplots/error bars/error bar style={line width=1.4pt}, /pgfplots/error bars/error mark options={rotate=90, mark size=6pt, line width=1.4pt}] coordinates {(1,0.83)+-(0,0.23)(3,0.7)+-(0,0.23)};
\addplot[cred, only marks, mark=none, ebar, /pgfplots/error bars/error bar style={line width=1.4pt}, /pgfplots/error bars/error mark options={rotate=90, mark size=6pt, line width=1.4pt}] coordinates {(2,1.9)+-(0,0.2)(4,1.0)+-(0,0.2)};
\addplot[black!80, line width=1.1pt] coordinates {(1,2.86)(3,2.86)};
\addplot[black!80, line width=1.1pt] coordinates {(1,2.29)(2,2.29)};
\addplot[black!80, line width=1.1pt] coordinates {(2,2.4)(4,2.4)};
\addplot[black!80, line width=1.1pt] coordinates {(3,1.48)(4,1.48)};
\node[font=\fs{14}] at (axis cs:2,3.07) {ns};
\node[font=\fs{14}] at (axis cs:1.5,2.45) {**};
\node[font=\fs{14}] at (axis cs:3.04,2.56) {**};
\node[font=\fs{14}] at (axis cs:3.42,1.7) {ns};
\end{axis}

% ---------------- J ----------------
\node[font=\fs{14}] at (189pt,-747pt) {PTZ - Kindling};
\begin{axis}[gp, at={(74pt,-893pt)}, anchor=south west, width=208pt, height=130pt,
  xmin=0, xmax=12, ymin=0, ymax=100, xtick={0,2,...,12}, ytick={0,50,100},
  xlabel={\# of injections}, ylabel={Survival (\%)},
  tick label style={font=\fs{13.5}}, label style={font=\fs{13.5}},
  xlabel style={yshift=2pt}, xticklabel style={yshift=1.5pt},
  major x tick style={yshift=0pt},
  legend style={at={(0.46,0.47)}, anchor=north west, draw=none, fill=none,
    font=\fs{12.5}, row sep=0.8pt, nodes={inner sep=1pt}},
  legend cell align=left,
  legend image code/.code={\draw[#1] (0pt,0pt) -- (12pt,0pt); \draw[#1, solid] (6pt,-2.5pt) -- (6pt,2.5pt);}]
\addplot[black, densely dotted, line width=0.6pt, forget plot] coordinates {(0,50)(12,50)};
\addplot[black, line width=0.9pt, forget plot] coordinates {(0,100)(10,100)};
\addplot[black!60, dash pattern=on 1.5pt off 1pt, line width=1pt, forget plot] coordinates {(0,100)(10,100)(10,75)(12,75)};
\addplot[cred, line width=1.2pt, forget plot] coordinates {(0,100)(3,100)(3,93.8)(6,93.8)(6,83.3)(7,83.3)(7,62.5)(8,62.5)(8,52.1)(12,52.1)};
\addplot[clightred, dash pattern=on 3pt off 1.5pt, line width=1.2pt, forget plot] coordinates {(0,100)(2,100)(2,87.5)(3,87.5)(3,50)(5,50)(5,0)};
\addplot[black!60, only marks, mark=|, mark size=2pt, forget plot] coordinates {(1,100)(2,100)(3,100)(4,100)(5,100)(6,100)(7,100)(8,100)(9,100)(11,75)(12,75)};
\addplot[cred, only marks, mark=|, mark size=2pt, forget plot] coordinates {(4,93.8)(5,93.8)(9,52.1)(10,52.1)(11,52.1)(12,52.1)};
\addplot[clightred, only marks, mark=|, mark size=2pt, forget plot] coordinates {(4,50)};
\addlegendimage{black, line width=0.9pt}
\addlegendentry{+/+ - AUT6 (11)}
\addlegendimage{black!60, dash pattern=on 1.5pt off 1pt, line width=1pt}
\addlegendentry{+/+ - Vehicle (7)}
\addlegendimage{cred, line width=1.2pt}
\addlegendentry{H/+ - AUT6 (10)}
\addlegendimage{clightred, dash pattern=on 3pt off 1.5pt, line width=1.2pt}
\addlegendentry{H/+ - Vehicle (6)}
\end{axis}

% ---------------- K ----------------
\begin{axis}[hid, at={(295pt,-896pt)}, anchor=south west, width=122pt, height=134pt,
  xmin=-1, xmax=1, ymin=-1, ymax=1]
\addplot[fill=cpielight, draw=black, line width=0.8pt] coordinates {(0,0) (0.916,-0.402) (0.866,-0.5) (0.766,-0.643) (0.643,-0.766) (0.5,-0.866) (0.342,-0.940) (0.174,-0.985) (0,-1) (-0.174,-0.985) (-0.342,-0.940) (-0.5,-0.866) (-0.643,-0.766) (-0.766,-0.643) (-0.866,-0.5) (-0.940,-0.342) (-0.985,-0.174) (-1,0) (-0.985,0.174) (-0.940,0.342) (-0.866,0.5) (-0.766,0.643) (-0.643,0.766) (-0.5,0.866) (-0.342,0.940) (-0.174,0.985) (0,1) (0,0)};
\addplot[fill=cpiedark, draw=black, line width=0.8pt] coordinates {(0,0) (0,1) (0.174,0.985) (0.342,0.940) (0.5,0.866) (0.643,0.766) (0.766,0.643) (0.866,0.5) (0.940,0.342) (0.985,0.174) (1,0) (0.985,-0.174) (0.940,-0.342) (0.916,-0.402) (0,0)};
\node[font=\fs{14}] at (axis cs:0.47,0.31) {Seizures};
\node[font=\fs{14}] at (axis cs:0.47,0.04) {(n = 6)};
\node[font=\fs{14}] at (axis cs:-0.2,-0.14) {No seizures};
\node[font=\fs{14}] at (axis cs:-0.34,-0.37) {(n = 13)};
\end{axis}

% ---------------- L ----------------
\begin{axis}[gp, at={(509pt,-893pt)}, anchor=south west, width=148pt, height=170pt,
  xmin=0.476, xmax=2.24, ymin=0, ymax=50, ytick={0,10,...,50},
  xtick={1,2}, xticklabels={{Without\\AUT6},{With\\AUT6}}, xticklabel style={align=center},
  ylabel={Average Seizure Frequency\\Per Day}, ylabel style={align=center, font=\fs{13.5}},
  legend style={at={(0.858,1.01)}, anchor=north west, draw=none, fill=none,
    font=\fs{13}, row sep=0pt, nodes={inner sep=1pt}},
  legend cell align=left,
  legend image code/.code={\draw[mark repeat=2,mark phase=2,#1] plot coordinates {(0pt,0pt) (7pt,0pt) (14pt,0pt)};},
  every axis plot/.append style={cpinkline, line width=0.9pt, mark size=3pt, mark options={solid}}]
\addplot[mark=diamond] coordinates {(1,1.5)(2,2.5)};
\addlegendentry{Mouse 1}
\addplot[mark=o] coordinates {(1,16.5)(2,12.5)};
\addlegendentry{Mouse 2}
\addplot[mark=o] coordinates {(1,1.0)(2,0.3)};
\addlegendentry{Mouse 3}
\addplot[mark=x] coordinates {(1,2.0)(2,0.0)};
\addlegendentry{Mouse 4}
\addplot[mark=triangle, mark options={rotate=180}] coordinates {(1,39.5)(2,8.0)};
\addlegendentry{Mouse 5}
\addplot[mark=square] coordinates {(1,24)(2,1.5)};
\addlegendentry{Mouse 6}
\addlegendimage{empty legend}
\addlegendentry{\rule{0pt}{8pt}}
\addplot[cred, line width=1.2pt, mark=*, mark size=4pt, ebar,
  /pgfplots/error bars/error bar style={line width=1.2pt},
  /pgfplots/error bars/error mark options={rotate=90, mark size=5pt, line width=1.2pt}]
  coordinates {(1,13.8)+-(0,6.4)(2,4.0)+-(0,2.0)};
\addlegendentry{Average}
\end{axis}

\end{tikzpicture}
\end{document}
